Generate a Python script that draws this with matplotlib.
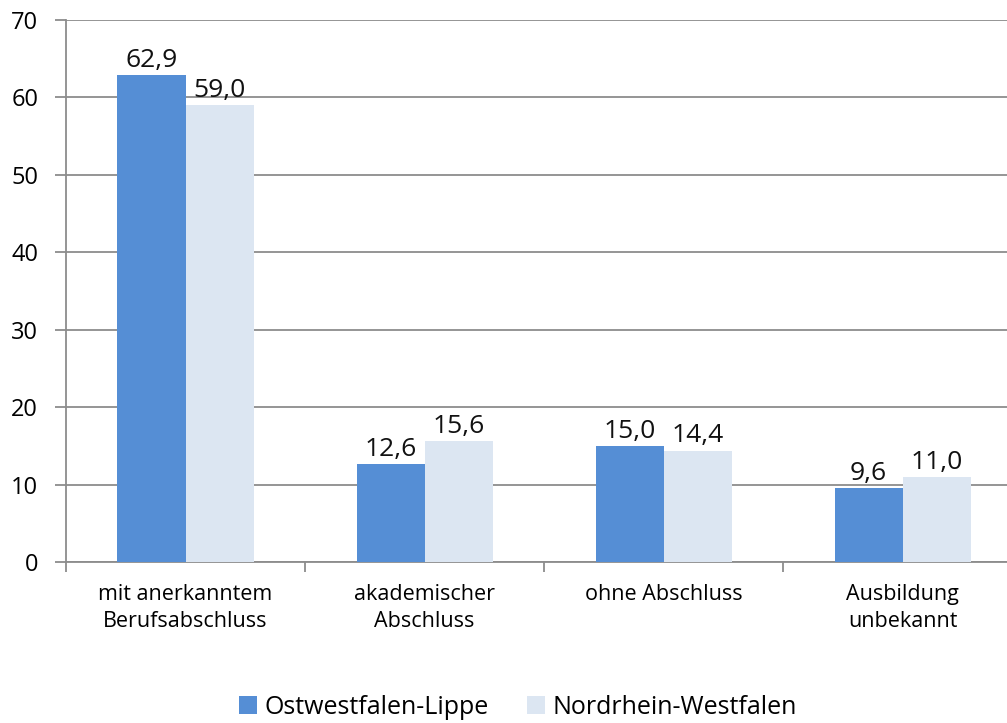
import matplotlib
matplotlib.use("Agg")
import matplotlib.pyplot as plt
import numpy as np

categories = ["mit anerkanntem\nBerufsabschluss", "akademischer\nAbschluss", "ohne Abschluss", "Ausbildung\nunbekannt"]
owl = [62.9, 12.6, 15.0, 9.6]
nrw = [59.0, 15.6, 14.4, 11.0]
series_names = ["Ostwestfalen-Lippe", "Nordrhein-Westfalen"]
yticks = [0, 10, 20, 30, 40, 50, 60, 70]

plt.rcParams['font.family'] = ['Open Sans', 'DejaVu Sans']
fig = plt.figure(figsize=(10.07, 7.23), dpi=100)
ax = fig.add_axes([66/1007, (723-562)/723, 1 - 66/1007, (562-20)/723])

grey = "#8c8c8c"
blue = "#558ED5"
light = "#DCE6F2"
x = np.arange(len(categories))
w = 68/239
b1 = ax.bar(x - w/2, owl, w, color=blue, label=series_names[0], zorder=3)
b2 = ax.bar(x + w/2, nrw, w, color=light, label=series_names[1], zorder=3)

for bars, vals in ((b1, owl), (b2, nrw)):
    for r, v in zip(bars, vals):
        ax.annotate(f"{v:.1f}".replace(".", ","), (r.get_x() + r.get_width()/2, v),
                    xytext=(0, 1.5), textcoords="offset points", ha="center", va="bottom",
                    fontsize=19, color="#111111")

ax.set_yticks(yticks)
ax.set_yticklabels([str(t) for t in yticks], fontsize=17)
ax.yaxis.grid(True, color=grey, linewidth=1.3, zorder=0)
ax.tick_params(axis="y", length=8, width=1.3, color=grey, pad=12)
ax.set_xticks(x)
ax.set_xticklabels(categories, fontsize=15.5, linespacing=1.35)
ax.tick_params(axis="x", length=0, pad=16)
ax.set_xticks(np.arange(len(categories) + 1) - 0.5, minor=True)
ax.tick_params(axis="x", which="minor", length=7, width=1.3, color=grey)
ax.set_xlim(-0.5, -0.5 + 941/239)
ax.set_ylim(0, 70)
for s in ("top", "right"):
    ax.spines[s].set_visible(False)
for s in ("left", "bottom"):
    ax.spines[s].set_color(grey)
    ax.spines[s].set_linewidth(1.3)

fig.legend(handles=[b1, b2], labels=series_names, loc="center", bbox_to_anchor=(518/1007, 1 - 707/723),
           ncol=2, frameon=False, fontsize=18, handlelength=0.75, handleheight=0.75,
           handletextpad=0.3, columnspacing=1.5)

fig.savefig("out.png", dpi=100)
